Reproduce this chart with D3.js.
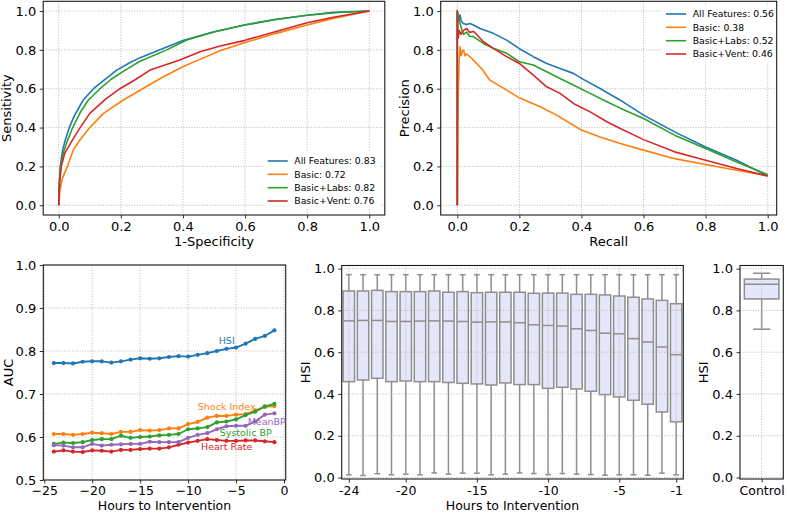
<!DOCTYPE html>
<html><head><meta charset="utf-8">
<script src="https://cdn.jsdelivr.net/npm/d3@7"></script>
<style>body{margin:0;background:#fff}svg{display:block;font-family:"DejaVu Sans",sans-serif}</style>
</head><body><svg id="c" width="787" height="513"></svg>
<script>
// ---------- DATA ----------
const seriesNames = ["All Features", "Basic", "Basic+Labs", "Basic+Vent"];
const seriesColors = ["#1f77b4", "#ff7f0e", "#2ca02c", "#d62728"];
const rocAUC = ["0.83", "0.72", "0.82", "0.76"];
const prAUC = ["0.56", "0.38", "0.52", "0.46"];

// ROC curves: [1-specificity, sensitivity]
const rocAll = [[0,0],[0.002,0.12],[0.005,0.2],[0.012,0.28],[0.02,0.33],[0.034,0.4],[0.05,0.46],[0.079,0.542],[0.112,0.6],[0.15,0.65],[0.187,0.696],[0.23,0.735],[0.262,0.76],[0.326,0.8],[0.4,0.848],[0.5,0.893],[0.6,0.928],[0.7,0.956],[0.8,0.978],[0.884,0.993],[1,1]];
const rocBasic = [[0,0],[0.004,0.08],[0.012,0.14],[0.028,0.2],[0.047,0.285],[0.07,0.34],[0.1,0.4],[0.144,0.473],[0.208,0.542],[0.27,0.6],[0.33,0.655],[0.401,0.714],[0.455,0.751],[0.519,0.796],[0.6,0.838],[0.7,0.885],[0.8,0.928],[0.884,0.962],[1,1]];
const rocLabs = [[0,0],[0.002,0.11],[0.006,0.2],[0.015,0.27],[0.025,0.32],[0.045,0.4],[0.07,0.48],[0.0955,0.542],[0.133,0.6],[0.17,0.65],[0.214,0.696],[0.26,0.74],[0.348,0.8],[0.412,0.851],[0.5,0.892],[0.6,0.929],[0.7,0.958],[0.8,0.978],[0.9,0.992],[1,1]];
const rocVent = [[0,0],[0.003,0.12],[0.008,0.2],[0.02,0.27],[0.042,0.33],[0.069,0.4],[0.1,0.473],[0.15,0.545],[0.197,0.6],[0.25,0.65],[0.294,0.696],[0.39,0.748],[0.455,0.79],[0.52,0.82],[0.6,0.849],[0.7,0.895],[0.8,0.94],[0.884,0.968],[1,1]];

// Precision-recall curves: [recall, precision]
const prAll = [[0,0],[0,1],[0.004,0.95],[0.009,0.98],[0.012,0.95],[0.019,0.936],[0.03,0.93],[0.041,0.936],[0.052,0.928],[0.073,0.91],[0.116,0.885],[0.159,0.85],[0.2,0.806],[0.245,0.765],[0.288,0.73],[0.331,0.704],[0.374,0.679],[0.406,0.648],[0.46,0.601],[0.525,0.541],[0.6,0.464],[0.7,0.378],[0.8,0.3],[0.9,0.232],[1,0.151]];
const prBasic = [[0,0],[0.003,0.575],[0.006,0.75],[0.009,0.816],[0.012,0.77],[0.016,0.79],[0.02,0.8],[0.025,0.77],[0.03,0.78],[0.052,0.747],[0.08,0.7],[0.105,0.644],[0.159,0.593],[0.2,0.553],[0.267,0.507],[0.32,0.464],[0.374,0.412],[0.4,0.387],[0.46,0.352],[0.525,0.318],[0.6,0.284],[0.7,0.24],[0.8,0.21],[0.9,0.18],[1,0.151]];
const prLabs = [[0,0],[0,1],[0.003,0.97],[0.009,0.936],[0.015,0.9],[0.02,0.88],[0.03,0.891],[0.04,0.87],[0.052,0.868],[0.084,0.833],[0.116,0.808],[0.159,0.782],[0.2,0.739],[0.245,0.722],[0.288,0.687],[0.331,0.653],[0.374,0.619],[0.428,0.576],[0.482,0.533],[0.525,0.5],[0.6,0.447],[0.7,0.361],[0.8,0.292],[0.9,0.223],[1,0.158]];
const prVent = [[0,0],[0,1],[0.003,0.86],[0.006,0.9],[0.012,0.88],[0.02,0.9],[0.03,0.91],[0.04,0.89],[0.052,0.895],[0.057,0.888],[0.084,0.842],[0.116,0.808],[0.159,0.765],[0.2,0.73],[0.245,0.67],[0.288,0.61],[0.331,0.576],[0.374,0.524],[0.428,0.481],[0.482,0.43],[0.525,0.395],[0.6,0.338],[0.7,0.275],[0.8,0.232],[0.9,0.189],[1,0.151]];

// AUC over time
const hours = [-24,-23,-22,-21,-20,-19,-18,-17,-16,-15,-14,-13,-12,-11,-10,-9,-8,-7,-6,-5,-4,-3,-2,-1];
const aucHSI = [0.772,0.772,0.771,0.775,0.776,0.776,0.773,0.776,0.780,0.783,0.782,0.783,0.786,0.788,0.787,0.791,0.795,0.800,0.805,0.808,0.817,0.828,0.835,0.848];
const aucShock = [0.607,0.607,0.605,0.607,0.610,0.609,0.607,0.612,0.612,0.616,0.615,0.616,0.620,0.620,0.630,0.635,0.645,0.649,0.649,0.652,0.653,0.662,0.670,0.672];
const aucSystolic = [0.584,0.587,0.586,0.588,0.593,0.595,0.595,0.603,0.598,0.600,0.601,0.604,0.605,0.607,0.618,0.620,0.623,0.634,0.636,0.641,0.651,0.659,0.671,0.677];
const aucMeanBP = [0.581,0.580,0.576,0.576,0.584,0.580,0.582,0.583,0.584,0.584,0.589,0.588,0.588,0.588,0.598,0.605,0.609,0.618,0.625,0.626,0.626,0.636,0.652,0.655];
const aucHeart = [0.566,0.569,0.566,0.565,0.569,0.568,0.566,0.570,0.570,0.572,0.573,0.573,0.576,0.582,0.587,0.591,0.595,0.593,0.591,0.591,0.592,0.592,0.590,0.588];
const aucNames = ["HSI", "Shock Index", "Systolic BP", "Heart Rate", "MeanBP"];
const aucColors = ["#1f77b4", "#ff7f0e", "#2ca02c", "#d62728", "#9467bd"];

// HSI boxplots by hour
const boxHigh = [0.971,0.971,0.971,0.971,0.971,0.971,0.971,0.971,0.971,0.971,0.971,0.971,0.971,0.971,0.971,0.971,0.971,0.971,0.971,0.971,0.971,0.971,0.971,0.971];
const boxQ3 = [0.893,0.893,0.896,0.890,0.890,0.890,0.893,0.887,0.890,0.885,0.887,0.887,0.887,0.882,0.883,0.883,0.877,0.877,0.874,0.869,0.863,0.855,0.848,0.832];
const boxMedian = [0.750,0.752,0.752,0.747,0.747,0.749,0.750,0.749,0.747,0.744,0.745,0.745,0.741,0.731,0.728,0.725,0.712,0.704,0.691,0.688,0.665,0.649,0.625,0.588];
const boxQ1 = [0.459,0.467,0.475,0.459,0.462,0.459,0.459,0.455,0.451,0.448,0.443,0.453,0.445,0.445,0.427,0.432,0.424,0.413,0.397,0.386,0.370,0.351,0.314,0.267];
const boxLow = [0.013,0.010,0.018,0.013,0.016,0.013,0.022,0.016,0.021,0.021,0.013,0.016,0.022,0.019,0.014,0.019,0.016,0.014,0.011,0.013,0.013,0.011,0.021,0.013];
const boxTickHours = [-24,-20,-15,-10,-5,-1];
const boxTickLabels = ["-24","-20","-15","-10","-5","-1"];

// Control box
const controlCategory = ["Control"];
const controlHigh = [0.978];
const controlQ3 = [0.950];
const controlMedian = [0.925];
const controlQ1 = [0.855];
const controlLow = [0.710];

const unitTicks = [0,0.2,0.4,0.6,0.8,1.0];
const aucYTicks = [0.5,0.6,0.7,0.8,0.9,1.0];
const aucXTicks = [-25,-20,-15,-10,-5,0];

// ---------- HELPERS ----------
const svg = d3.select("#c");
const FONT = "DejaVu Sans, sans-serif";
const GRID = "#b0b0b0";

function gridLines(g, x, y, xv, yv, box) {
  const gg = g.append("g");
  gg.selectAll(".gx").data(xv).join("line")
    .attr("x1", d => x(d)).attr("x2", d => x(d)).attr("y1", box.y0).attr("y2", box.y1)
    .attr("stroke", GRID).attr("stroke-width", 0.9).attr("stroke-dasharray", "1,1.6");
  gg.selectAll(".gy").data(yv).join("line")
    .attr("x1", box.x0).attr("x2", box.x1).attr("y1", d => y(d)).attr("y2", d => y(d))
    .attr("stroke", GRID).attr("stroke-width", 0.9).attr("stroke-dasharray", "1,1.6");
}
function frame(g, box) {
  g.append("rect").attr("x", box.x0).attr("y", box.y0)
    .attr("width", box.x1 - box.x0).attr("height", box.y1 - box.y0)
    .attr("fill", "none").attr("stroke", "#1a1a1a").attr("stroke-width", 1.1);
}
function styleAxis(fs) {
  return sel => {
    sel.select(".domain").remove();
    sel.attr("font-family", FONT).attr("font-size", fs);
    sel.selectAll(".tick line").attr("stroke", "#1a1a1a").attr("stroke-width", 0.9);
    sel.selectAll(".tick text").attr("fill", "#000");
  };
}
function axes(g, x, y, box, xv, yv, xf, yf, xfs, xpad) {
  g.append("g").attr("transform", `translate(0,${box.y1})`)
    .call(d3.axisBottom(x).tickValues(xv).tickSize(3.5).tickPadding(xpad).tickFormat(xf))
    .call(styleAxis(xfs));
  g.append("g").attr("transform", `translate(${box.x0},0)`)
    .call(d3.axisLeft(y).tickValues(yv).tickSize(3.5).tickPadding(3.5).tickFormat(yf))
    .call(styleAxis(13));
}
function xLabel(text, cx, yb, fs) {
  svg.append("text").attr("x", cx).attr("y", yb).attr("text-anchor", "middle")
    .attr("font-family", FONT).attr("font-size", fs).text(text);
}
function yLabel(text, xb, cy) {
  svg.append("text").attr("transform", `translate(${xb},${cy}) rotate(-90)`)
    .attr("text-anchor", "middle").attr("font-family", FONT).attr("font-size", 13).text(text);
}
const f1 = d3.format(".1f");
const minusFmt = d => (d < 0 ? "\u2212" + Math.abs(d) : String(d));

// ---------- ROC ----------
{
  const box = {x0: 43.2, x1: 384.8, y0: 1.3, y1: 215};
  const x = d3.scaleLinear().domain([-0.05, 1.05]).range([box.x0, box.x1]);
  const y = d3.scaleLinear().domain([-0.05, 1.05]).range([box.y1, box.y0]);
  const g = svg.append("g");
  gridLines(g, x, y, unitTicks, unitTicks, box);
  const line = d3.line().x(d => x(d[0])).y(d => y(d[1]));
  const curves = [rocAll, rocBasic, rocLabs, rocVent];
  g.selectAll(".roc").data(curves).join("path")
    .attr("d", line).attr("fill", "none")
    .attr("stroke", (d, i) => seriesColors[i]).attr("stroke-width", 1.6)
    .attr("stroke-linejoin", "round");
  frame(g, box);
  axes(g, x, y, box, unitTicks, unitTicks, f1, f1, 13, 3.5);
  const lg = g.append("g");
  lg.append("rect").attr("x", 263).attr("y", 152).attr("width", 118).attr("height", 57).attr("fill", "#fff").attr("opacity", 0.9);
  const rows = [161, 174.3, 187.7, 201];
  seriesNames.forEach((n, i) => {
    lg.append("line").attr("x1", 267.7).attr("x2", 287.7).attr("y1", rows[i]).attr("y2", rows[i])
      .attr("stroke", seriesColors[i]).attr("stroke-width", 1.6);
    lg.append("text").attr("x", 294.3).attr("y", rows[i] + 3.3).attr("font-family", FONT)
      .attr("font-size", 9.3).text(`${n}: ${rocAUC[i]}`);
  });
  xLabel("1-Specificity", (box.x0 + box.x1) / 2, 246, 13);
  yLabel("Sensitivity", 11, (box.y0 + box.y1) / 2);
}

// ---------- PR ----------
{
  const box = {x0: 440.7, x1: 776.7, y0: 1.3, y1: 215};
  const x = d3.scaleLinear().domain([-0.0535, 1.029]).range([box.x0, box.x1]);
  const y = d3.scaleLinear().domain([-0.05, 1.05]).range([box.y1, box.y0]);
  const g = svg.append("g");
  gridLines(g, x, y, unitTicks, unitTicks, box);
  const line = d3.line().x(d => x(d[0])).y(d => y(d[1]));
  const curves = [prAll, prBasic, prLabs, prVent];
  g.selectAll(".pr").data(curves).join("path")
    .attr("d", line).attr("fill", "none")
    .attr("stroke", (d, i) => seriesColors[i]).attr("stroke-width", 1.6)
    .attr("stroke-linejoin", "round");
  frame(g, box);
  axes(g, x, y, box, unitTicks, unitTicks, f1, f1, 13, 3.5);
  const lg = g.append("g");
  lg.append("rect").attr("x", 662).attr("y", 5).attr("width", 112).attr("height", 57).attr("fill", "#fff").attr("opacity", 0.9);
  const rows = [14, 27.3, 40.7, 54];
  seriesNames.forEach((n, i) => {
    lg.append("line").attr("x1", 666).attr("x2", 686).attr("y1", rows[i]).attr("y2", rows[i])
      .attr("stroke", seriesColors[i]).attr("stroke-width", 1.6);
    lg.append("text").attr("x", 692.7).attr("y", rows[i] + 3.3).attr("font-family", FONT)
      .attr("font-size", 9.3).text(`${n}: ${prAUC[i]}`);
  });
  xLabel("Recall", (box.x0 + box.x1) / 2, 246, 13);
  yLabel("Precision", 409, (box.y0 + box.y1) / 2);
}

// ---------- AUC over time ----------
{
  const box = {x0: 43.3, x1: 285.7, y0: 265, y1: 480};
  const x = d3.scaleLinear().domain([-25.1, 0.18]).range([box.x0, box.x1]);
  const y = d3.scaleLinear().domain([0.5, 1.0]).range([box.y1, box.y0]);
  const g = svg.append("g");
  gridLines(g, x, y, aucXTicks, aucYTicks, box);
  const series = [aucHSI, aucShock, aucSystolic, aucHeart, aucMeanBP];
  const line = d3.line().x((d, i) => x(hours[i])).y(d => y(d));
  series.forEach((s, k) => {
    g.append("path").attr("d", line(s)).attr("fill", "none")
      .attr("stroke", aucColors[k]).attr("stroke-width", 1.9).attr("stroke-linejoin", "round");
    g.selectAll(null).data(s).join("circle")
      .attr("cx", (d, i) => x(hours[i])).attr("cy", d => y(d)).attr("r", 2.1)
      .attr("fill", aucColors[k]);
  });
  frame(g, box);
  axes(g, x, y, box, aucXTicks, aucYTicks, minusFmt, f1, 12.5, 3);
  const labelPos = [[226.7, 343.5], [226.7, 409.5], [245.7, 436], [226.7, 450], [266.7, 425]];
  aucNames.forEach((n, k) => {
    g.append("text").attr("x", labelPos[k][0]).attr("y", labelPos[k][1])
      .attr("text-anchor", "middle").attr("font-family", FONT).attr("font-size", 9.5)
      .attr("fill", aucColors[k]).text(n);
  });
  xLabel("Hours to Intervention", (box.x0 + box.x1) / 2, 510, 12.5);
  yLabel("AUC", 12.5, (box.y0 + box.y1) / 2);
}

// ---------- Boxplots ----------
const BOXFILL = "#e6e6fa", BOXLINE = "#8e8e8e";
function drawBoxes(g, x, y, pos, low, q1, med, q3, high, bw) {
  const idx = d3.range(pos.length);
  g.selectAll(null).data(idx).join("line")
    .attr("x1", i => x(pos[i])).attr("x2", i => x(pos[i]))
    .attr("y1", i => y(q3[i])).attr("y2", i => y(high[i]))
    .attr("stroke", BOXLINE).attr("stroke-width", 1.5);
  g.selectAll(null).data(idx).join("line")
    .attr("x1", i => x(pos[i])).attr("x2", i => x(pos[i]))
    .attr("y1", i => y(q1[i])).attr("y2", i => y(low[i]))
    .attr("stroke", BOXLINE).attr("stroke-width", 1.5);
  [high, low].forEach(arr => {
    g.selectAll(null).data(idx).join("line")
      .attr("x1", i => x(pos[i]) - bw / 4).attr("x2", i => x(pos[i]) + bw / 4)
      .attr("y1", i => y(arr[i])).attr("y2", i => y(arr[i]))
      .attr("stroke", BOXLINE).attr("stroke-width", 1.5);
  });
  g.selectAll(null).data(idx).join("rect")
    .attr("x", i => x(pos[i]) - bw / 2).attr("width", bw)
    .attr("y", i => y(q3[i])).attr("height", i => y(q1[i]) - y(q3[i]))
    .attr("fill", BOXFILL).attr("stroke", BOXLINE).attr("stroke-width", 1.5);
  g.selectAll(null).data(idx).join("line")
    .attr("x1", i => x(pos[i]) - bw / 2).attr("x2", i => x(pos[i]) + bw / 2)
    .attr("y1", i => y(med[i])).attr("y2", i => y(med[i]))
    .attr("stroke", BOXLINE).attr("stroke-width", 1.5);
}
{
  const box = {x0: 341.7, x1: 683.3, y0: 265.5, y1: 479};
  const x = d3.scaleLinear().domain([-24.5, -0.5]).range([box.x0, box.x1]);
  const y = d3.scaleLinear().domain([-0.007, 1.015]).range([box.y1, box.y0]);
  const g = svg.append("g");
  const bw = (x(1) - x(0)) * 0.8;
  drawBoxes(g, x, y, hours, boxLow, boxQ1, boxMedian, boxQ3, boxHigh, bw);
  gridLines(g, x, y, boxTickHours, unitTicks, box);
  frame(g, box);
  axes(g, x, y, box, boxTickHours, unitTicks, (d, i) => boxTickLabels[i], f1, 12.5, 3.5);
  xLabel("Hours to Intervention", (box.x0 + box.x1) / 2, 510, 12.5);
  yLabel("HSI", 310, (box.y0 + box.y1) / 2);
}
{
  const box = {x0: 740, x1: 783.3, y0: 265.5, y1: 479};
  const x = d3.scaleLinear().domain([-0.5, 0.5]).range([box.x0, box.x1]);
  const y = d3.scaleLinear().domain([-0.007, 1.015]).range([box.y1, box.y0]);
  const g = svg.append("g");
  const bw = (x(1) - x(0)) * 0.8;
  drawBoxes(g, x, y, [0], controlLow, controlQ1, controlMedian, controlQ3, controlHigh, bw);
  gridLines(g, x, y, [0], unitTicks, box);
  frame(g, box);
  axes(g, x, y, box, [0], unitTicks, (d, i) => controlCategory[i], f1, 12.5, 3.5);
  yLabel("HSI", 708, (box.y0 + box.y1) / 2);
}
</script></body></html>
